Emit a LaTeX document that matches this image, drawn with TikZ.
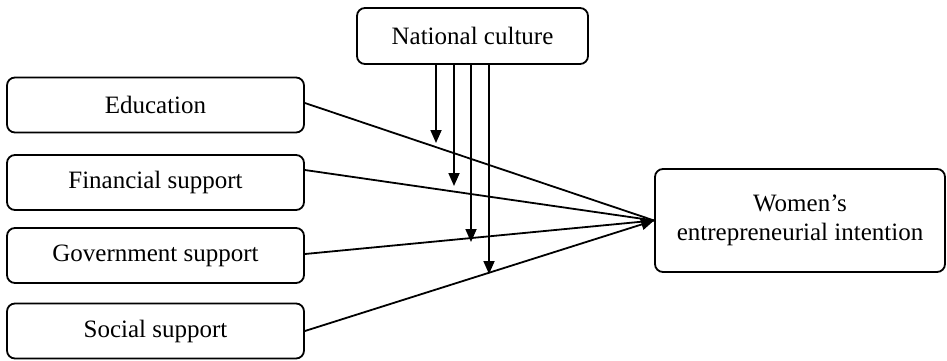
\documentclass[tikz,border=0pt]{standalone}
\usepackage{fontspec}
\setmainfont{Liberation Serif}
\usetikzlibrary{arrows.meta}
\begin{document}
\begin{tikzpicture}[x=1pt,y=-1pt,
  box/.style={draw, line width=1.8pt, rounded corners=8pt, align=center,
    inner sep=0pt, font=\fontsize{25}{29}\selectfont},
  link/.style={line width=1.8pt},
  arr/.style={line width=1.8pt, -{Triangle[length=13pt,width=11pt]}}]
\useasboundingbox (0,0) rectangle (947,360);
\node[box, minimum width=297pt, minimum height=55pt] (edu) at (155.5,105) {Education};
\node[box, minimum width=297pt, minimum height=55pt] (fin) at (155.5,182.5) {Financial support};
\node[box, minimum width=297pt, minimum height=55pt] (gov) at (155.5,255.5) {Government support};
\node[box, minimum width=297pt, minimum height=55pt] (soc) at (155.5,331) {Social support};
\node[box, minimum width=231pt, minimum height=56pt] (nat) at (472.5,36) {National culture};
\node[box, minimum width=290pt, minimum height=103pt] (wom) at (800,220.5) {Women’s\\entrepreneurial intention};
% incoming arrows
\draw[link] ([yshift=2pt]edu.east) -- (wom.west);
\draw[link] ([yshift=12.5pt]fin.east) -- (wom.west);
\draw[link] ([yshift=1.5pt]gov.east) -- (wom.west);
\draw[arr] (soc.east) -- (wom.west);
% moderating arrows
\coordinate (m1) at (436,143);
\coordinate (m2) at (454,186);
\coordinate (m3) at (471,242);
\coordinate (m4) at (489,274);
\draw[arr] (nat.south -| m1) -- (m1);
\draw[arr] (nat.south -| m2) -- (m2);
\draw[arr] (nat.south -| m3) -- (m3);
\draw[arr] (nat.south -| m4) -- (m4);
\end{tikzpicture}
\end{document}
